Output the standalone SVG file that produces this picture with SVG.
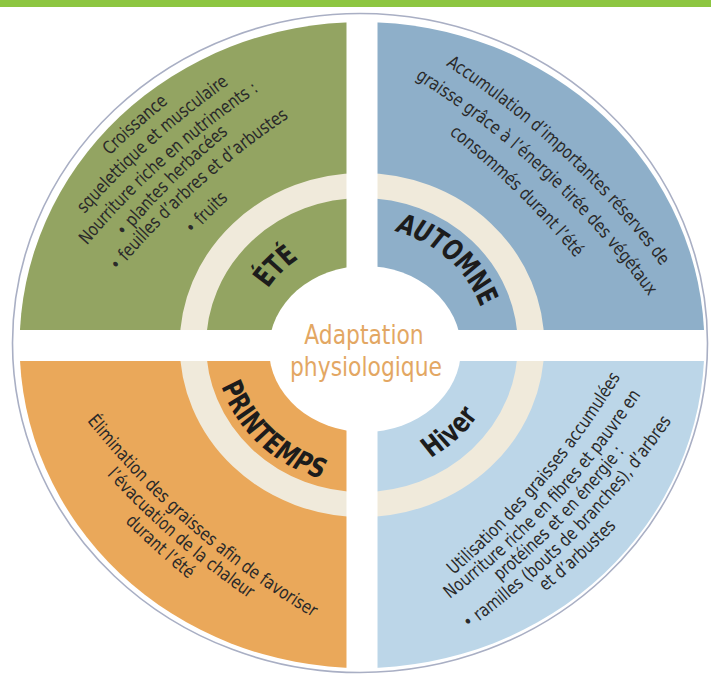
<svg xmlns="http://www.w3.org/2000/svg" xmlns:xlink="http://www.w3.org/1999/xlink" width="711" height="675" viewBox="0 0 711 675">
<style>
.d{font-family:"DejaVu Sans Condensed","Liberation Sans Narrow","Liberation Sans",sans-serif;font-stretch:condensed;font-size:18px;fill:#2a2a2a;text-anchor:middle}
.l{font-family:"DejaVu Sans Condensed","Liberation Sans Narrow","Liberation Sans",sans-serif;font-stretch:condensed;font-size:28px;font-weight:bold;fill:#1c1c1c;text-anchor:middle}
.c{font-family:"DejaVu Sans Condensed","Liberation Sans Narrow","Liberation Sans",sans-serif;font-stretch:condensed;font-size:27px;fill:#e3a763;text-anchor:middle}
.band{fill:none;stroke:#f0eadb;stroke-width:25}
.gap{fill:#ffffff}
</style>
<defs>
<path id="pu" d="M-300,50 Q0,-40 300,50"/>
<path id="pd" d="M-300,-40 Q0,50 300,-40"/>
<path id="k105" d="M-110.9,-52.5 A128.05,105 0 0 1 110.9,-52.5"/>
<path id="k118" d="M-124.6,-59 A143.9,118 0 0 1 124.6,-59"/>
<path id="k139" d="M-146.8,69.5 A169.5,139 0 0 0 146.8,69.5"/>
<path id="k130" d="M-137.3,65 A158.5,130 0 0 0 137.3,65"/>
</defs>
<rect x="0" y="0" width="711" height="7" fill="#8dc641"/>

<g id="ete">
<path transform="translate(362,345) scale(1.06,1)" d="M0,0 L-323,0 A323,323 0 0 1 0,-323 Z" fill="#93a462"/>
<text class="l" transform="translate(362,345) scale(1.06,1) rotate(-46) scale(0.82,1)"><textPath href="#k105" xlink:href="#k105" startOffset="50%">ÉTÉ</textPath></text>
<text class="d" transform="translate(135.1,124.9) rotate(-42) scale(0.9,1)"><textPath href="#pu" xlink:href="#pu" startOffset="50%">Croissance</textPath></text>
<text class="d" transform="translate(149.5,141) rotate(-42) scale(0.9,1)"><textPath href="#pu" xlink:href="#pu" startOffset="50%">squelettique et musculaire</textPath></text>
<text class="d" transform="translate(164.1,158.3) rotate(-42) scale(0.9,1)"><textPath href="#pu" xlink:href="#pu" startOffset="50%">Nourriture riche en nutriments :</textPath></text>
<text class="d" transform="translate(170.5,179.5) rotate(-45) scale(0.9,1)"><textPath href="#pu" xlink:href="#pu" startOffset="50%">• plantes herbacées</textPath></text>
<text class="d" transform="translate(194.5,184.8) rotate(-42) scale(0.9,1)"><textPath href="#pu" xlink:href="#pu" startOffset="50%">• feuilles d’arbres et d’arbustes</textPath></text>
<text class="d" transform="translate(206.8,213.2) rotate(-45) scale(0.9,1)"><textPath href="#pu" xlink:href="#pu" startOffset="50%">• fruits</textPath></text>
</g>

<g id="automne">
<path transform="translate(362,345) scale(1.06,1)" d="M0,0 L0,-323 A323,323 0 0 1 323,0 Z" fill="#8eafc9"/>
<text class="l" transform="translate(362,345) scale(1.06,1) rotate(43.2) scale(0.82,1)"><textPath href="#k118" xlink:href="#k118" startOffset="50%">AUTOMNE</textPath></text>
<text class="d" transform="translate(566,152.1) rotate(43) scale(0.9,1)"><textPath href="#pu" xlink:href="#pu" startOffset="50%">Accumulation d’importantes réserves de</textPath></text>
<text class="d" transform="translate(546,172.2) rotate(43) scale(0.9,1)"><textPath href="#pu" xlink:href="#pu" startOffset="50%">graisse grâce à l’énergie tirée des végétaux</textPath></text>
<text class="d" transform="translate(519.2,188.8) rotate(44.5) scale(0.9,1)"><textPath href="#pu" xlink:href="#pu" startOffset="50%">consommés durant l’été</textPath></text>
</g>

<g id="hiver">
<path transform="translate(362,345) scale(1.06,1)" d="M0,0 L323,0 A323,323 0 0 1 0,323 Z" fill="#bcd6e8"/>
<text class="l" transform="translate(362,345) scale(1.06,1) rotate(-43.5) scale(0.82,1)"><textPath href="#k130" xlink:href="#k130" startOffset="50%">Hiver</textPath></text>
<text class="d" transform="translate(541.2,479.5) rotate(-49.9) scale(0.9,1)"><textPath href="#pd" xlink:href="#pd" startOffset="50%">Utilisation des graisses accumulées</textPath></text>
<text class="d" transform="translate(550.4,501.7) rotate(-46.9) scale(0.9,1)"><textPath href="#pd" xlink:href="#pd" startOffset="50%">Nourriture riche en fibres et pauvre en</textPath></text>
<text class="d" transform="translate(562.2,516.3) rotate(-46.1) scale(0.9,1)"><textPath href="#pd" xlink:href="#pd" startOffset="50%">protéines et en énergie :</textPath></text>
<text class="d" transform="translate(575.8,530.5) rotate(-45.7) scale(0.9,1)"><textPath href="#pd" xlink:href="#pd" startOffset="50%">• ramilles (bouts de branches), d’arbres</textPath></text>
<text class="d" transform="translate(578.5,556.5) rotate(-42.3) scale(0.9,1)"><textPath href="#pd" xlink:href="#pd" startOffset="50%">et d’arbustes</textPath></text>
</g>

<g id="printemps">
<path transform="translate(362,345) scale(1.06,1)" d="M0,0 L0,323 A323,323 0 0 1 -323,0 Z" fill="#eaa85a"/>
<text class="l" transform="translate(362,345) scale(1.06,1) rotate(44.5) scale(0.82,1)"><textPath href="#k139" xlink:href="#k139" startOffset="50%">PRINTEMPS</textPath></text>
<text class="d" transform="translate(194.1,525.7) rotate(41) scale(0.9,1)"><textPath href="#pd" xlink:href="#pd" startOffset="50%">Élimination des graisses afin de favoriser</textPath></text>
<text class="d" transform="translate(177.6,536.9) rotate(41) scale(0.9,1)"><textPath href="#pd" xlink:href="#pd" startOffset="50%">l’évacuation de la chaleur</textPath></text>
<text class="d" transform="translate(159.3,547.7) rotate(42) scale(0.9,1)"><textPath href="#pd" xlink:href="#pd" startOffset="50%">durant l’été</textPath></text>
</g>

<g id="anneau" transform="translate(362,345) scale(1.06,1)">
<circle class="band" cx="0" cy="0" r="159.5"/>
</g>
<g id="separations">
<rect class="gap" x="346.5" y="10" width="31" height="665"/>
<rect class="gap" x="0" y="330" width="711" height="31"/>
</g>
<ellipse cx="360" cy="343" rx="347.5" ry="329.5" fill="none" stroke="#a9afc4" stroke-width="1.6"/>

<g id="centre">
<ellipse cx="365" cy="349" rx="96" ry="83" fill="#ffffff"/>
<text class="c" transform="translate(364,344) scale(0.9,1)">Adaptation</text>
<text class="c" transform="translate(366,376) scale(0.9,1)">physiologique</text>
</g>
</svg>
